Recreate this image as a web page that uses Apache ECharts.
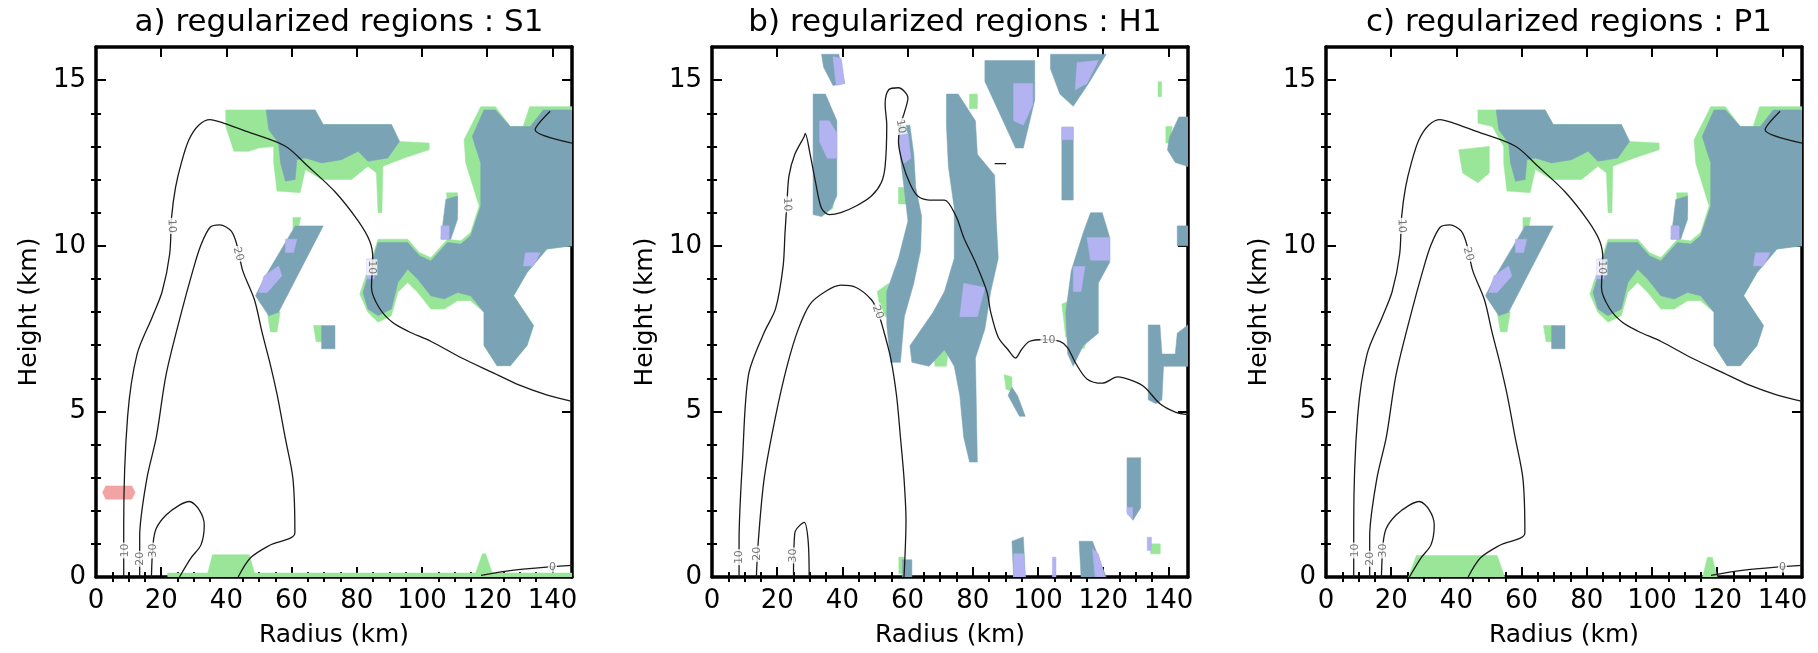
<!DOCTYPE html>
<html><head><meta charset="utf-8">
<script src="https://cdn.jsdelivr.net/npm/echarts@6/dist/echarts.min.js"></script>
<style>html,body{margin:0;padding:0;background:#fff}#c{width:1818px;height:653px}</style>
</head><body><div id="c"></div>
<script>
// ---------------- DATA ----------------
const panelTitles = ['a) regularized regions : S1', 'b) regularized regions : H1', 'c) regularized regions : P1'];
const xName = 'Radius (km)';
const yName = 'Height (km)';
const xMin = 0, xMax = 146, yMin = 0, yMax = 16;
const xMajor = [0, 20, 40, 60, 80, 100, 120, 140];
const xMinor = [5,10,15,25,30,35,45,50,55,65,70,75,85,90,95,105,110,115,125,130,135];
const yMajor = [0, 5, 10, 15];
const yMinor = [1,2,3,4,6,7,8,9,11,12,13,14];

// ---- panel a : contours (x km, y km)
const contA10 = [[8.5,0],[8.5,1.58],[9.7,4.85],[12.6,6.73],[17.3,7.86],[20.3,8.62],[22.6,9.75],[23.2,10.88],[24.4,11.76],[26.2,12.51],[28.5,13.2],[31.5,13.64],[35.0,13.81],[39.1,13.7],[46.2,13.45],[58.0,13.01],[65.1,12.39],[73.3,11.63],[80.4,10.75],[84.0,10.13],[84.9,9.62],[84.5,8.74],[86.9,8.12],[91.0,7.68],[95.7,7.42],[102.8,7.11],[112.2,6.61],[121.7,6.17],[129.9,5.79],[138.2,5.5],[146,5.3]];
const contA20 = [[13.4,0],[13.4,1.21],[15.6,2.97],[18.5,4.22],[21.5,6.11],[26.2,7.99],[29.7,9.25],[32.1,10.0],[35.0,10.56],[38.0,10.63],[41.5,10.44],[43.3,10.0],[45.0,9.25],[48.6,8.37],[51.0,7.36],[53.3,6.48],[55.6,5.48],[58.0,4.22],[60.4,2.97],[61.0,1.33],[53.3,0.96],[47.4,0.58],[43.6,0]];
const contA30 = [[17.0,0],[17.5,1.0],[18.5,1.47],[21.5,1.87],[25.6,2.17],[28.6,2.28],[31.7,2.02],[33.2,1.57],[32.2,0.97],[29.1,0.57],[25.6,0]];
const contA0 = [[118.1,0.05],[127.6,0.2],[138.2,0.3],[146,0.35]];
const contAtr = [[139.3,14.06],[134.7,13.5],[146,13.1]];
const labelsA = [[8.9,0.8,'10',90],[13.6,0.55,'20',90],[17.4,0.8,'30',90],[23.2,10.6,'10',-88],[43.6,9.75,'20',-75],[84.6,9.35,'10',-90],[140,0.3,'0',0]];

// ---- panel a : regions (polygons in km)
const greenA = [
  [[39.8,14.1],[67.2,14.1],[69.7,13.66],[90.6,13.66],[93.1,13.15],[102.2,13.1],[102.2,12.9],[94.6,12.65],[90.6,12.5],[88.0,12.4],[87.7,11.0],[86.5,11.0],[86.0,12.2],[83.4,12.4],[78.4,12.0],[69.2,12.0],[64.2,12.3],[62.6,11.6],[55.5,11.65],[54.5,12.5],[54.5,13.0],[49.9,12.95],[46.9,12.85],[42.3,12.85],[39.8,13.6]],
  [[80.9,8.54],[86.5,10.2],[95.6,10.2],[99.2,9.8],[102.7,9.64],[107.8,10.2],[111.9,10.15],[114.9,10.4],[117.5,11.2],[113.4,12.5],[112.9,13.2],[118.0,14.2],[122.5,14.2],[127.1,13.6],[131.0,13.6],[133.0,14.2],[146,14.2],[146,10.0],[138.3,9.9],[132.2,9.19],[128.1,8.49],[134.2,7.59],[132.2,6.99],[127.1,6.38],[123.0,6.38],[119.0,6.99],[119.0,7.99],[114.9,8.34],[110.9,8.34],[106.8,8.09],[102.7,8.09],[98.7,8.59],[95.6,8.89],[92.6,8.6],[90.6,7.89],[86.5,7.69],[83.4,7.99]],
  [[60.4,10.85],[62.8,10.85],[62.0,10.5],[60.4,10.5]],
  [[52.5,8.0],[56.5,8.0],[55.5,7.4],[53.5,7.4]],
  [[66.7,7.59],[69.5,7.59],[69.5,7.1],[67.5,7.1]],
  [[107.5,11.6],[110.9,11.6],[110.9,11.0],[108.0,11.0]],
  [[22,0],[146,0],[146,0.12],[22,0.12]],
  [[35.7,0.67],[47.0,0.67],[49.0,0],[34.0,0]],
  [[116,0],[122,0],[119.5,0.7],[118.5,0.7]]
];
const blueA = [
  [[52.2,14.1],[67.2,14.1],[69.7,13.66],[90.6,13.66],[93.1,13.15],[89.5,12.65],[83.4,12.55],[80.4,12.85],[75.3,12.6],[69.2,12.5],[64.2,12.65],[61.6,12.6],[61.1,12.0],[58.1,11.95],[56.6,12.5],[56.0,13.1],[53.0,13.5]],
  [[81.9,8.59],[86.5,10.1],[95.6,10.1],[99.2,9.7],[102.7,9.54],[107.8,10.1],[111.9,10.05],[114.9,10.3],[118.0,11.2],[118.0,12.5],[115.4,13.3],[119.0,14.1],[122.5,14.1],[127.1,13.6],[133.2,13.6],[137.2,14.1],[146,14.1],[146,10.0],[138.3,9.9],[132.2,9.19],[128.1,8.49],[134.2,7.59],[132.2,6.99],[127.1,6.38],[123.0,6.38],[119.0,6.99],[119.0,7.99],[114.9,8.49],[110.9,8.59],[106.8,8.39],[102.7,8.49],[98.7,8.99],[95.6,9.29],[92.6,8.89],[90.6,8.09],[86.5,7.89],[83.4,8.09]],
  [[61.1,10.6],[69.7,10.6],[56.0,7.99],[53.0,7.89],[48.9,8.49],[52.0,9.09]],
  [[69.2,7.59],[73.3,7.59],[73.3,6.89],[69.2,6.89]],
  [[107.3,11.4],[110.9,11.5],[110.9,10.8],[108.8,10.2],[105.8,10.2],[106.8,11.0]]
];
const lavA = [
  [[51.5,9.09],[56.0,9.39],[57.0,9.09],[52.5,8.59],[49.9,8.59]],
  [[58.1,10.2],[61.6,10.2],[60.6,9.8],[58.1,9.8]],
  [[131.7,9.79],[136.2,9.79],[134.2,9.39],[131.1,9.39]],
  [[105.8,10.6],[108.3,10.6],[108.3,10.2],[105.8,10.2]],
  [[83.0,9.6],[85.3,9.6],[85.3,9.0],[83.0,9.0]]
];
const pinkA = [
  [[2,2.55],[3,2.75],[11,2.75],[12,2.55],[11,2.35],[3,2.35]]
];

// ---- panel b : contours
const contB10 = [[8.3,0],[8.3,1.08],[9.4,3.6],[11.2,6.1],[15.9,7.36],[19.5,8.1],[21.8,9.37],[22.4,10.4],[23.0,11.3],[23.6,12.1],[25.4,12.76],[28.3,13.3],[28.6,13.39],[30.1,12.76],[31.8,11.9],[33.6,11.13],[36.0,10.94],[39.5,11.0],[44.2,11.2],[48.9,11.5],[51.9,11.9],[53.1,12.4],[53.6,13.64],[53.1,14.27],[54.2,14.71],[57.2,14.77],[60.1,14.46],[59.0,14.02],[57.8,13.64],[57.2,13.14],[58.4,12.51],[60.7,11.88],[63.1,11.5],[66.6,11.38],[71.3,11.38],[74.9,10.88],[77.2,10.25],[80.8,9.5],[84.3,8.62],[85.5,7.99],[87.8,7.24],[90.8,6.86],[93.1,6.61],[94.9,6.86],[97.3,7.11],[102.0,7.17],[106.7,7.11],[109.1,6.92],[111.4,6.48],[115.0,5.98],[119.7,5.85],[124.4,6.04],[129.1,5.92],[132.7,5.73],[137.4,5.23],[142.1,4.98],[146,4.9]];
const contB20 = [[13.6,0],[14.2,1.08],[16.0,2.97],[19.5,4.85],[23.0,6.36],[26.5,7.49],[30.1,8.24],[34.8,8.62],[39.5,8.81],[44.2,8.74],[48.9,8.37],[50.9,7.99],[52.5,7.49],[54.8,6.61],[56.6,5.48],[57.8,4.22],[58.9,2.97],[59.5,1.71],[58.9,0]];
const contB30 = [[25.0,0],[25.4,1.33],[28.3,1.65],[29.5,1.08],[29.8,0]];
const contBdash = [[86.7,12.48],[90.2,12.48]];
const labelsB = [[8.25,0.6,'10',90],[13.7,0.7,'20',90],[24.9,0.65,'30',90],[23.0,11.25,'10',-88],[57.9,13.6,'10',-80],[50.8,8.0,'20',-70],[103.2,7.14,'10',0]];

// ---- panel b : regions
const greenB = [
  [[33.6,11.6],[37.7,11.76],[37.1,11.13],[33.6,10.88]],
  [[50.7,8.62],[54.2,8.87],[54.8,7.86],[51.9,7.86]],
  [[57.2,11.76],[59.5,11.76],[59.5,11.26],[57.2,11.26]],
  [[67.8,6.86],[72.5,6.86],[71.9,6.36],[68.4,6.36]],
  [[79.0,14.58],[81.4,14.58],[81.4,14.14],[79.0,14.14]],
  [[107.3,8.24],[110.2,8.36],[110.8,7.24],[108.5,7.24]],
  [[112.5,7.36],[115.5,7.36],[114.2,6.9],[112.2,6.9]],
  [[89.6,6.11],[92.0,6.04],[92.0,5.6],[90.2,5.67]],
  [[139.2,13.6],[141.2,13.6],[140.3,13.1],[139.2,13.1]],
  [[57.3,0.6],[59.0,0.6],[59.0,0.1],[57.3,0.1]],
  [[134.5,1.0],[137.5,1.0],[137.5,0.7],[134.5,0.7]],
  [[136.8,14.95],[137.9,14.95],[137.9,14.5],[136.8,14.5]]
];
const blueB = [
  [[31.0,14.58],[34.8,14.58],[38.3,13.77],[38.3,11.51],[36.6,11.13],[33.6,10.88],[31.0,10.94]],
  [[33.6,15.78],[38.9,15.78],[40.7,14.9],[37.1,14.84],[34.2,15.4]],
  [[57.2,13.64],[60.7,13.64],[61.9,12.76],[62.5,11.76],[64.3,10.88],[64.0,9.87],[61.9,8.87],[59.0,7.86],[57.8,6.48],[54.8,6.48],[53.6,7.61],[53.6,8.62],[57.2,9.62],[60.1,10.75],[58.9,11.76],[57.8,12.64]],
  [[71.9,14.58],[75.5,14.58],[80.8,13.77],[81.4,12.76],[86.7,12.13],[87.2,10.75],[87.8,9.62],[85.5,8.62],[83.7,7.49],[80.8,6.61],[81.4,3.47],[79.0,3.47],[77.2,4.22],[76.0,5.48],[74.3,6.36],[71.3,6.86],[66.6,6.36],[61.3,6.48],[60.7,6.98],[67.8,7.99],[71.3,8.62],[74.3,9.62],[74.3,11.13],[72.5,12.39],[71.9,13.64]],
  [[83.7,15.59],[99.0,15.59],[99.0,14.4],[95.5,12.95],[93.1,12.95],[83.7,14.96]],
  [[103.8,15.78],[120.9,15.78],[115.5,14.9],[110.8,14.21],[106.7,14.58],[103.8,15.34]],
  [[107.3,13.58],[110.8,13.58],[110.8,11.38],[107.3,11.38]],
  [[116.1,11.0],[119.7,11.0],[122.0,10.25],[122.0,9.5],[118.5,8.87],[118.5,7.36],[113.8,6.98],[110.8,6.36],[109.1,6.73],[108.5,7.99],[110.2,9.25],[113.8,10.38]],
  [[133.8,7.61],[137.4,7.61],[138.0,6.73],[142.1,6.73],[142.7,7.36],[146,7.61],[146,6.36],[138.5,6.36],[138.0,5.35],[136.2,5.23],[133.8,5.35]],
  [[140.3,13.27],[143.2,13.89],[146,13.89],[146,12.39],[142.1,12.51],[139.7,12.89]],
  [[142.7,10.6],[146,10.6],[146,10.0],[142.7,10.0]],
  [[127.3,3.6],[131.5,3.6],[131.5,2.09],[129.1,1.71],[127.3,1.96]],
  [[92.0,1.08],[95.5,1.21],[96.1,0],[92.5,0]],
  [[112.6,1.08],[116.7,1.08],[120.9,0],[113.2,0]],
  [[58.4,0.52],[61.3,0.52],[61.3,0],[58.4,0]],
  [[92.0,5.73],[93.7,5.48],[96.1,4.85],[94.3,4.85],[90.8,5.48]]
];
const lavB = [
  [[33.0,13.77],[36.0,13.77],[38.3,13.39],[38.3,12.64],[35.4,12.64],[33.0,13.14]],
  [[37.1,15.71],[39.7,15.65],[40.7,14.9],[38.1,14.84]],
  [[57.2,13.39],[60.1,13.39],[61.0,12.64],[58.4,12.45]],
  [[77.2,8.87],[83.7,8.74],[81.4,7.86],[76.0,7.86]],
  [[92.5,14.9],[98.4,14.9],[98.4,14.27],[95.5,13.64],[92.5,13.77]],
  [[112.0,15.53],[118.5,15.59],[115.0,14.9],[111.4,14.71]],
  [[107.3,13.58],[110.8,13.58],[110.8,13.2],[107.3,13.2]],
  [[115.0,10.25],[122.0,10.25],[122.0,9.56],[116.1,9.56]],
  [[110.8,9.37],[114.4,9.37],[113.2,8.62],[110.8,8.62]],
  [[127.3,2.1],[129.0,2.1],[129.0,1.75],[127.3,1.9]],
  [[92.5,0.7],[95.6,0.7],[96.1,0],[92.5,0]],
  [[104.4,0.6],[105.5,0.6],[105.5,0],[104.4,0]],
  [[116.7,0.85],[118.5,0.7],[120.5,0],[117.5,0]],
  [[133.5,1.2],[134.8,1.2],[134.8,0.8],[133.5,0.8]]
];

// ---- panel c : contours (same field as panel a) and regions
const contC10 = contA10, contC20 = contA20, contC30 = contA30, contC0 = contA0, contCtr = contAtr;
const labelsC = labelsA;
const greenC = [
  [[46.6,14.1],[67.2,14.1],[69.7,13.66],[90.6,13.66],[93.1,13.15],[102.2,13.1],[102.2,12.9],[94.6,12.65],[90.6,12.5],[88.0,12.4],[87.7,11.0],[86.5,11.0],[86.0,12.2],[83.4,12.4],[78.4,12.0],[69.2,12.0],[64.2,12.3],[62.6,11.6],[55.5,11.65],[54.5,12.5],[54.5,13.0],[51.0,13.6],[46.6,13.7]],
  [[40.7,12.9],[50.1,13.0],[50.1,12.2],[46.6,11.9],[41.9,12.2]],
  greenA[1], greenA[2], greenA[3], greenA[4], greenA[5],
  [[25.3,0],[54.8,0],[52.5,0.65],[27.7,0.65]],
  [[115.5,0],[120,0],[118.5,0.6],[117,0.6]]
];
const blueC = blueA;
const lavC = lavA;

// ---------------- CHART ----------------
const FONT = 'DejaVu Sans';
const gridLeft = [96, 712, 1326];
const gridTop = 47, gridW = 476, gridH = 532;
const COL = {green:'#99e699', blue:'#7ba3b6', lav:'#b3b3f2', pink:'#f2a3a3', line:'#1a1a1a'};

const grids = gridLeft.map(l => ({left:l, top:gridTop, width:gridW, height:gridH, containLabel:false}));
const titles = gridLeft.map((l,i) => ({text:panelTitles[i], left:l+gridW/2, top:2, textAlign:'center',
  textStyle:{fontSize:31, fontWeight:'normal', color:'#000', fontFamily:FONT}}));

const xAxes = [], yAxes = [];
gridLeft.forEach((l, g) => {
  const common = {gridIndex:g, type:'value', min:xMin, max:xMax, splitLine:{show:false}};
  xAxes.push(Object.assign({}, common, {position:'bottom', name:xName, nameLocation:'middle', nameGap:46,
    nameTextStyle:{fontSize:25, color:'#000', fontFamily:FONT},
    axisLine:{show:true, onZero:false, lineStyle:{color:'#000', width:3.5}},
    axisTick:{show:true, inside:true, length:10, customValues:xMajor, lineStyle:{color:'#000', width:2}},
    axisLabel:{show:true, customValues:xMajor, margin:11, fontSize:26, color:'#000', fontFamily:FONT}}));
  xAxes.push(Object.assign({}, common, {position:'bottom', axisLine:{show:false},
    axisTick:{show:true, inside:true, length:5, customValues:xMinor, lineStyle:{color:'#000', width:2}}, axisLabel:{show:false}}));
  xAxes.push(Object.assign({}, common, {position:'top',
    axisLine:{show:true, onZero:false, lineStyle:{color:'#000', width:3.5}},
    axisTick:{show:true, inside:true, length:10, customValues:xMajor, lineStyle:{color:'#000', width:2}}, axisLabel:{show:false}}));
  xAxes.push(Object.assign({}, common, {position:'top', axisLine:{show:false},
    axisTick:{show:true, inside:true, length:5, customValues:xMinor, lineStyle:{color:'#000', width:2}}, axisLabel:{show:false}}));

  const cy = {gridIndex:g, type:'value', min:yMin, max:yMax, splitLine:{show:false}};
  yAxes.push(Object.assign({}, cy, {position:'left', name:yName, nameLocation:'middle', nameGap:54,
    nameTextStyle:{fontSize:25, color:'#000', fontFamily:FONT},
    axisLine:{show:true, onZero:false, lineStyle:{color:'#000', width:3.5}},
    axisTick:{show:true, inside:true, length:10, customValues:yMajor, lineStyle:{color:'#000', width:2}},
    axisLabel:{show:true, customValues:yMajor, margin:10, fontSize:26, color:'#000', fontFamily:FONT}}));
  yAxes.push(Object.assign({}, cy, {position:'left', axisLine:{show:false},
    axisTick:{show:true, inside:true, length:5, customValues:yMinor, lineStyle:{color:'#000', width:2}}, axisLabel:{show:false}}));
  yAxes.push(Object.assign({}, cy, {position:'right',
    axisLine:{show:true, onZero:false, lineStyle:{color:'#000', width:3.5}},
    axisTick:{show:true, inside:true, length:10, customValues:yMajor, lineStyle:{color:'#000', width:2}}, axisLabel:{show:false}}));
  yAxes.push(Object.assign({}, cy, {position:'right', axisLine:{show:false},
    axisTick:{show:true, inside:true, length:5, customValues:yMinor, lineStyle:{color:'#000', width:2}}, axisLabel:{show:false}}));
});

function polySeries(polys, color, g) {
  return {
    type:'custom', coordinateSystem:'cartesian2d', xAxisIndex:g*4, yAxisIndex:g*4,
    silent:true, clip:true, z:2, animation:false,
    data: polys.map((p, i) => [p[0][0], p[0][1], i]),
    encode:{x:0, y:1},
    renderItem: (params, api) => {
      const p = polys[params.dataIndex];
      return {type:'polygon', shape:{points:p.map(v => api.coord(v))}, style:{fill:color, stroke:color, lineWidth:0.5}};
    }
  };
}
function lineSeries(pts, g) {
  return {type:'line', xAxisIndex:g*4, yAxisIndex:g*4, data:pts, showSymbol:false, symbol:'none',
    smooth:0.3, silent:true, z:5, clip:true, animation:false,
    lineStyle:{color:COL.line, width:1.3}};
}
function labelSeries(lbls, g) {
  return {type:'scatter', xAxisIndex:g*4, yAxisIndex:g*4, symbolSize:1, silent:true, z:6, animation:false,
    itemStyle:{color:'rgba(0,0,0,0)'},
    data: lbls.map(l => ({value:[l[0], l[1]], label:{rotate:l[3], formatter:l[2]}})),
    label:{show:true, position:'inside', color:'#555', fontSize:11, fontFamily:FONT,
      backgroundColor:'#fff', padding:[0,1]}};
}

const series = [
  polySeries(greenA, COL.green, 0), polySeries(blueA, COL.blue, 0), polySeries(lavA, COL.lav, 0), polySeries(pinkA, COL.pink, 0),
  lineSeries(contA10, 0), lineSeries(contA20, 0), lineSeries(contA30, 0), lineSeries(contA0, 0), lineSeries(contAtr, 0),
  labelSeries(labelsA, 0),
  polySeries(greenB, COL.green, 1), polySeries(blueB, COL.blue, 1), polySeries(lavB, COL.lav, 1),
  lineSeries(contB10, 1), lineSeries(contB20, 1), lineSeries(contB30, 1), lineSeries(contBdash, 1),
  labelSeries(labelsB, 1),
  polySeries(greenC, COL.green, 2), polySeries(blueC, COL.blue, 2), polySeries(lavC, COL.lav, 2),
  lineSeries(contC10, 2), lineSeries(contC20, 2), lineSeries(contC30, 2), lineSeries(contC0, 2), lineSeries(contCtr, 2),
  labelSeries(labelsC, 2)
];

const chart = echarts.init(document.getElementById('c'), null, {renderer:'canvas'});
chart.setOption({
  backgroundColor:'#fff', animation:false,
  title:titles, grid:grids, xAxis:xAxes, yAxis:yAxes, series:series
});
</script></body></html>
